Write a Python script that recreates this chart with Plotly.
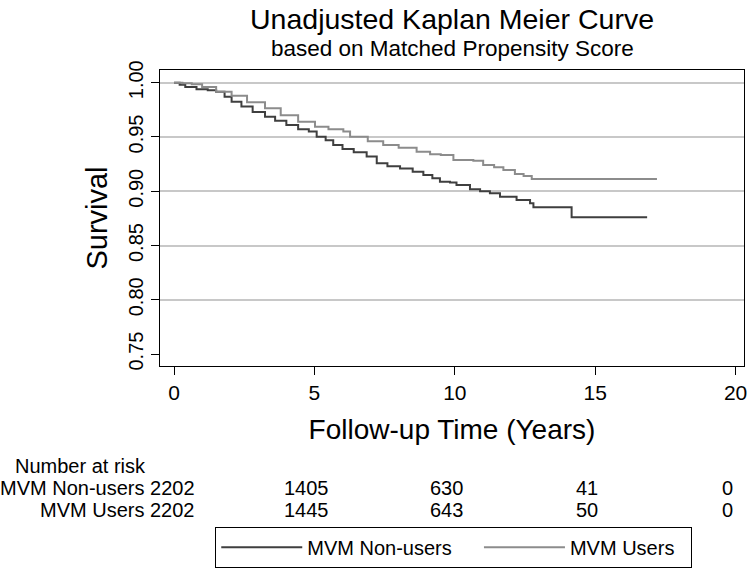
import plotly.graph_objects as go

# Kaplan-Meier step points (time in years, survival)
nonusers_t = [0, 0.2, 0.4, 0.8, 1.2, 1.5, 1.8, 2.05, 2.4, 2.8, 3.24, 3.6, 4.0, 4.42,
              4.8, 5.08, 5.4, 5.67, 6.0, 6.4, 6.86, 7.22, 7.6, 8.05, 8.5, 8.88, 9.2,
              9.47, 9.83, 10.06, 10.54, 10.9, 11.25, 11.61, 12.2, 12.68, 12.8, 14.16, 16.85]
nonusers_s = [1.0, 0.998, 0.996, 0.994, 0.993, 0.9917, 0.987, 0.9825, 0.978, 0.973,
              0.9687, 0.965, 0.961, 0.957, 0.955, 0.9503, 0.947, 0.9426, 0.939, 0.936,
              0.932, 0.9258, 0.923, 0.921, 0.918, 0.915, 0.912, 0.9088, 0.908, 0.9058,
              0.9018, 0.900, 0.8982, 0.895, 0.892, 0.889, 0.8853, 0.876, 0.876]

users_t = [0, 0.3, 0.63, 1.0, 1.5, 2.05, 2.6, 3.24, 3.8, 4.42, 5.02, 5.5, 6.03, 6.27,
           6.9, 7.45, 8.0, 8.64, 9.12, 9.5, 9.95, 10.66, 11.01, 11.4, 11.73, 12.14,
           12.45, 12.74, 17.2]
users_s = [1.0, 0.9995, 0.9985, 0.996, 0.9917, 0.988, 0.982, 0.9764, 0.970, 0.964,
           0.9595, 0.957, 0.955, 0.9503, 0.946, 0.9426, 0.940, 0.9365, 0.934, 0.9334,
           0.9288, 0.928, 0.9242, 0.922, 0.9196, 0.916, 0.914, 0.9113, 0.9113]

# number at risk table
risk_times = [0, 5, 10, 15, 20]
risk_nonusers = [2202, 1405, 630, 41, 0]
risk_users = [2202, 1445, 643, 50, 0]

x_ticks = [0, 5, 10, 15, 20]
y_ticks = [0.75, 0.80, 0.85, 0.90, 0.95, 1.00]
y_grid = [0.80, 0.85, 0.90, 0.95, 1.00]

FONT = "Liberation Sans, Arial, sans-serif"
DARK = "#3f3f3f"
LIGHT = "#8c8c8c"
NBSP = "\u00a0"  # pads legend entries so the box spacing matches

fig = go.Figure()

# dummy trace so the grid-only overlay axis gets drawn
fig.add_trace(go.Scatter(x=[None], y=[None], yaxis="y2", showlegend=False,
                         hoverinfo="skip"))

fig.add_trace(go.Scatter(
    x=nonusers_t, y=nonusers_s, mode="lines", line_shape="hv",
    line=dict(color=DARK, width=2), name="MVM Non-users" + NBSP * 4,
))
fig.add_trace(go.Scatter(
    x=users_t, y=users_s, mode="lines", line_shape="hv",
    line=dict(color=LIGHT, width=2), name="MVM Users" + NBSP * 2,
))

yr = [0.739, 1.0117]

# risk table annotations
ann = [dict(text="Number at risk", xref="paper", yref="paper", x=-0.252, y=-0.338,
            xanchor="left", yanchor="middle", showarrow=False, font=dict(size=20))]
rows = [("MVM Non-users", risk_nonusers, -0.412), ("MVM Users", risk_users, -0.486)]
for label, vals, yy in rows:
    ann.append(dict(text=f"{label} {vals[0]}", xref="x", yref="paper", x=risk_times[0],
                    y=yy, xanchor="right", xshift=23, yanchor="middle",
                    showarrow=False, font=dict(size=20)))
    for t, n in zip(risk_times[1:], vals[1:]):
        ann.append(dict(text=str(n), xref="x", yref="paper", x=t, y=yy,
                        xanchor="center", xshift=-8, yanchor="middle",
                        showarrow=False, font=dict(size=20)))

# subtitle
ann.append(dict(text="based on Matched Propensity Score", xref="paper", yref="paper",
                x=0.5, y=1.071, xanchor="center", yanchor="middle", showarrow=False,
                font=dict(size=22.5)))

fig.update_layout(
    width=750, height=571,
    margin=dict(l=160, r=6, t=70, b=205),
    paper_bgcolor="white", plot_bgcolor="white",
    font=dict(family=FONT, color="black"),
    title=dict(text="Unadjusted Kaplan Meier Curve", x=0.5, xref="paper",
               xanchor="center", y=0.967, yref="container", yanchor="middle",
               font=dict(size=28.5)),
    xaxis=dict(
        range=[-0.5, 20.3], tickvals=x_ticks, ticks="outside", ticklen=8,
        tickwidth=1.2, tickcolor="black", showgrid=False, zeroline=False,
        showline=True, mirror=True, linecolor="black", linewidth=1.2,
        tickfont=dict(size=21), automargin=False,
        title=dict(text="Follow-up Time (Years)", font=dict(size=28), standoff=16),
    ),
    yaxis=dict(
        range=yr, tickvals=y_ticks, tickformat=".2f", ticks="outside", ticklen=8,
        tickwidth=1.2, tickcolor="black", tickangle=-90, showgrid=False,
        zeroline=False, showline=True, mirror=True, linecolor="black",
        linewidth=1.2, tickfont=dict(size=20), automargin=False,
        title=dict(text="Survival", font=dict(size=29), standoff=8),
    ),
    yaxis2=dict(
        range=yr, overlaying="y", tickvals=y_grid, showgrid=True,
        gridcolor="#c8c8c8", gridwidth=1.5, showticklabels=False, ticks="",
        showline=False, zeroline=False, automargin=False,
    ),
    legend=dict(
        orientation="h", xref="container", yref="container",
        x=0.605, xanchor="center", y=0.0776, yanchor="top",
        bordercolor="black", borderwidth=1, font=dict(size=20),
        itemwidth=81,
    ),
    annotations=ann,
)

# drop the default 8px body margin so the figure sits at the page corner
fig.write_html("out.html", config={"displayModeBar": False},
               post_script="document.body.style.margin='0px';")
